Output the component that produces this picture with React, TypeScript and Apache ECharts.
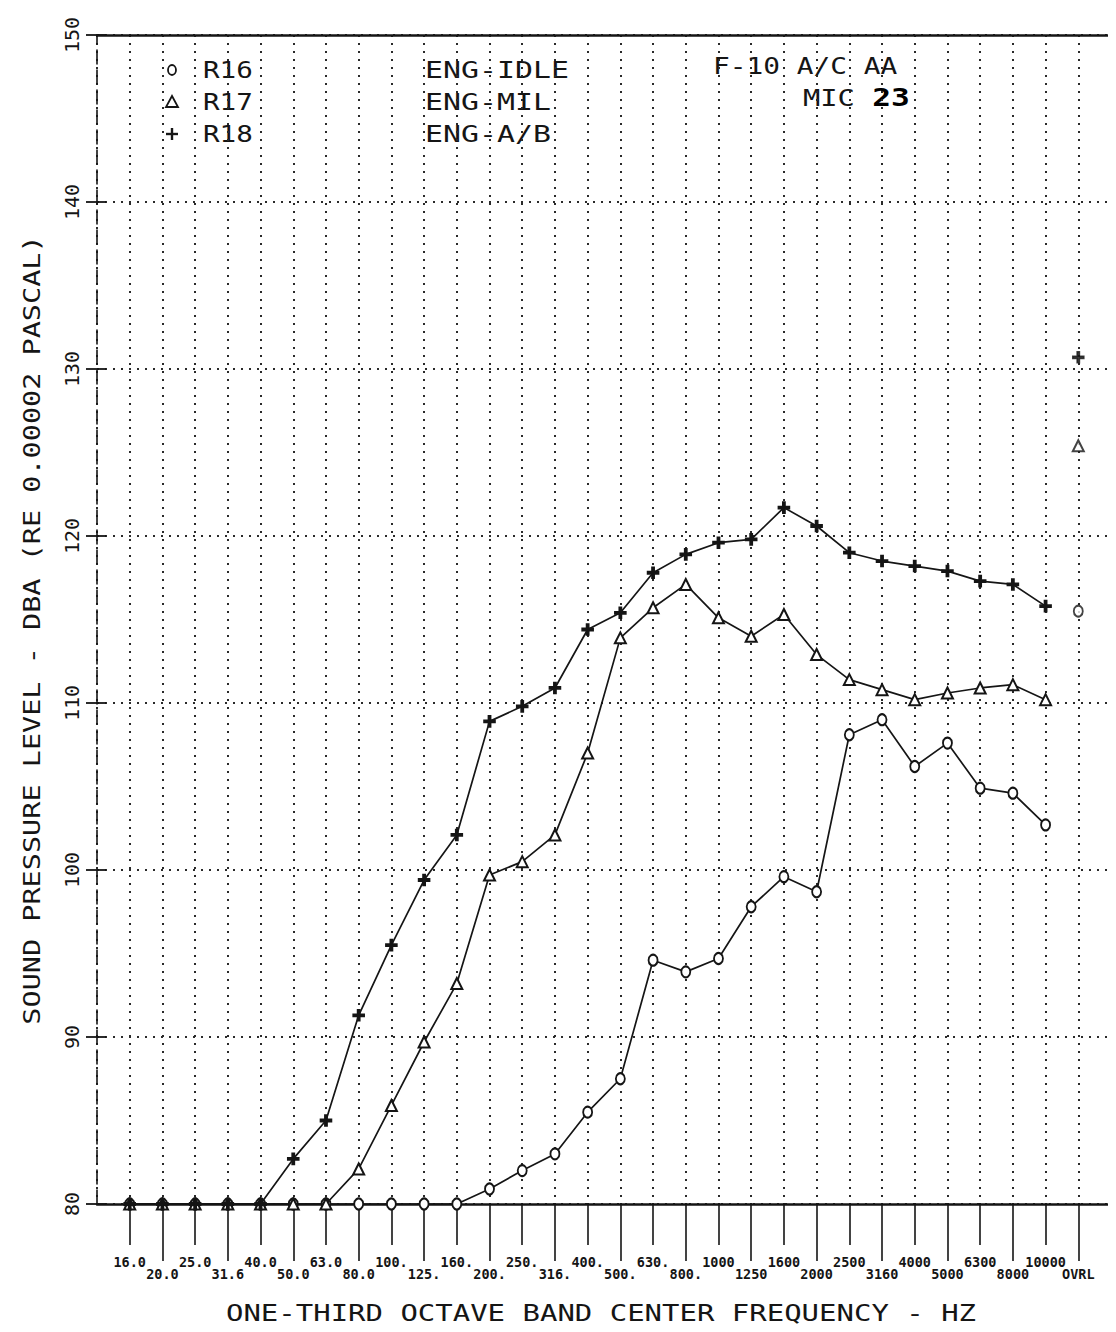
import React, { useEffect, useRef } from "react";
import * as echarts from "echarts";

// One-third octave band centre frequencies (x axis), last slot is the overall level
const bandLabels = [
  "16.0", "20.0", "25.0", "31.6", "40.0", "50.0", "63.0", "80.0", "100.", "125.",
  "160.", "200.", "250.", "316.", "400.", "500.", "630.", "800.", "1000", "1250",
  "1600", "2000", "2500", "3160", "4000", "5000", "6300", "8000", "10000", "OVRL",
];

// R16 - ENG-IDLE (circles)
const r16Idle = [
  80, 80, 80, 80, 80, 80, 80, 80, 80, 80,
  80, 80.9, 82.0, 83.0, 85.5, 87.5, 94.6, 93.9, 94.7, 97.8,
  99.6, 98.7, 108.1, 109.0, 106.2, 107.6, 104.9, 104.6, 102.7,
];

// R17 - ENG-MIL (triangles)
const r17Mil = [
  80, 80, 80, 80, 80, 80, 80, 82.1, 85.9, 89.7,
  93.2, 99.7, 100.5, 102.1, 107.0, 113.9, 115.7, 117.1, 115.1, 114.0,
  115.3, 112.9, 111.4, 110.8, 110.2, 110.6, 110.9, 111.1, 110.2,
];

// R18 - ENG-A/B (plus)
const r18AB = [
  80, 80, 80, 80, 80, 82.7, 85.0, 91.3, 95.5, 99.4,
  102.1, 108.9, 109.8, 110.9, 114.4, 115.4, 117.8, 118.9, 119.6, 119.8,
  121.7, 120.6, 119.0, 118.5, 118.2, 117.9, 117.3, 117.1, 115.8,
];

// Overall (OVRL) levels for R16, R17, R18
const overallLevels = [115.5, 125.4, 130.7];

const runNames = ["R16", "R17", "R18"];
const engineModes = ["ENG-IDLE", "ENG-MIL", "ENG-A/B"];

const MONO = '"DejaVu Sans Mono", "Liberation Mono", monospace';
const INK = "#151515";
const DOT = "#2a2a2a";
const PLUS = "path://M4,0H6V4H10V6H6V10H4V6H0V4H4Z";

export default function App() {
  const ref = useRef<HTMLDivElement | null>(null);

  useEffect(() => {
    if (!ref.current) return;
    const chart = echarts.init(ref.current, undefined, { renderer: "svg" });

    const idx = bandLabels.map((_, i) => i);
    const evenIdx = idx.filter((i) => i % 2 === 0);
    const oddIdx = idx.filter((i) => i % 2 === 1);
    const ovrlIndex = bandLabels.length - 1;

    const tickLabel = {
      fontFamily: MONO,
      fontSize: 13.5,
      fontWeight: "bold" as const,
      color: INK,
      formatter: (v: number) => bandLabels[Math.round(v)] ?? "",
    };

    const symbols = ["emptyCircle", "emptyTriangle", PLUS];
    const sizes: any[] = [[9, 11], 11, 11];
    const allValues = [r16Idle, r17Mil, r18AB];

    const lineSeries = allValues.map((vals, k) => ({
      name: runNames[k],
      type: "line",
      xAxisIndex: 0,
      yAxisIndex: 0,
      data: vals.map((v, i) => [i, v]),
      symbol: symbols[k],
      symbolSize: sizes[k],
      showSymbol: true,
      lineStyle: { color: INK, width: 1.7 },
      itemStyle: { color: INK, borderColor: INK, borderWidth: 1.6 },
      z: 3 + k,
    }));

    const ovrlSeries = overallLevels.map((v, k) => ({
      name: runNames[k] + " OVRL",
      type: "scatter",
      xAxisIndex: 0,
      yAxisIndex: 0,
      data: [[ovrlIndex, v]],
      symbol: symbols[k],
      symbolSize: sizes[k],
      itemStyle: { color: INK, borderColor: INK, borderWidth: 1.6 },
      z: 6,
    }));

    const textStyleBase = (size: number) => ({
      fontFamily: MONO,
      fontSize: size,
      fill: INK,
      verticalAlign: "middle",
    });

    const legendRowsY = [70, 102, 134];

    const option: any = {
      animation: false,
      backgroundColor: "#ffffff",
      grid: { left: 97, right: 5, top: 35, bottom: 128, containLabel: false },
      xAxis: [
        {
          type: "value",
          position: "bottom",
          min: -1,
          max: 30,
          interval: 1,
          axisLine: { show: true, onZero: false, lineStyle: { color: INK, width: 2.5 } },
          axisTick: { show: true, customValues: evenIdx, length: 41, lineStyle: { color: INK, width: 1.6 } },
          axisLabel: { show: true, customValues: evenIdx, margin: 51, ...tickLabel },
          splitLine: { show: false },
        },
        {
          type: "value",
          position: "bottom",
          min: -1,
          max: 30,
          interval: 1,
          axisLine: { show: false, onZero: false },
          axisTick: { show: true, customValues: oddIdx, length: 57, lineStyle: { color: INK, width: 1.6 } },
          axisLabel: { show: true, customValues: oddIdx, margin: 63, ...tickLabel },
          splitLine: { show: false },
        },
        {
          type: "value",
          position: "top",
          min: -1,
          max: 30,
          interval: 1,
          axisLine: { show: true, onZero: false, lineStyle: { color: INK, width: 2.5 } },
          axisTick: { show: false },
          axisLabel: { show: false },
          splitLine: { show: true, lineStyle: { color: DOT, width: 2, type: [2, 6] } },
        },
      ],
      yAxis: [
        {
          type: "value",
          position: "left",
          min: 80,
          max: 150,
          interval: 10,
          axisLine: { show: true, onZero: false, lineStyle: { color: INK, width: 1.6, type: [14, 6] } },
          axisTick: { show: true, inside: false, length: 11, lineStyle: { color: INK, width: 1.8 } },
          axisLabel: { rotate: 90, margin: 15, fontFamily: MONO, fontSize: 20, color: INK },
          splitLine: { show: true, lineStyle: { color: DOT, width: 2, type: [2, 6] } },
        },
        {
          type: "value",
          position: "right",
          min: 80,
          max: 150,
          interval: 10,
          axisLine: { show: true, onZero: false, lineStyle: { color: "#333", width: 1.6, type: [16, 8] } },
          axisTick: { show: false },
          axisLabel: { show: false },
          splitLine: { show: false },
        },
        {
          type: "value",
          position: "left",
          min: 80,
          max: 150,
          interval: 10,
          axisLine: { show: false, onZero: false },
          axisTick: { show: true, inside: true, length: 9, lineStyle: { color: INK, width: 1.8 } },
          axisLabel: { show: false },
          splitLine: { show: false },
        },
      ],
      series: [...lineSeries, ...ovrlSeries],
      graphic: [
        // legend symbols
        {
          type: "ellipse",
          shape: { cx: 172, cy: legendRowsY[0], rx: 4, ry: 5 },
          style: { fill: "none", stroke: INK, lineWidth: 1.8 },
        },
        {
          type: "polygon",
          shape: { points: [[172, legendRowsY[1] - 6], [166, legendRowsY[1] + 5], [178, legendRowsY[1] + 5]] },
          style: { fill: "none", stroke: INK, lineWidth: 1.8 },
        },
        {
          type: "line",
          shape: { x1: 166, y1: legendRowsY[2], x2: 178, y2: legendRowsY[2] },
          style: { stroke: INK, lineWidth: 2.4 },
        },
        {
          type: "line",
          shape: { x1: 172, y1: legendRowsY[2] - 6, x2: 172, y2: legendRowsY[2] + 6 },
          style: { stroke: INK, lineWidth: 2.4 },
        },
        ...runNames.map((n, k) => ({
          type: "text",
          x: 203,
          y: legendRowsY[k],
          scaleX: 1.2,
          style: { ...textStyleBase(23), text: n, align: "left" },
        })),
        ...engineModes.map((m, k) => ({
          type: "text",
          x: 425,
          y: legendRowsY[k],
          scaleX: 1.3,
          style: { ...textStyleBase(23), text: m, align: "left" },
        })),
        {
          type: "text",
          x: 713,
          y: 66,
          scaleX: 1.21,
          style: { ...textStyleBase(23), text: "F-10 A/C AA", align: "left" },
        },
        {
          type: "text",
          x: 803,
          y: 98,
          scaleX: 1.25,
          style: {
            ...textStyleBase(23),
            align: "left",
            text: "{m|MIC} {n|23}",
            rich: {
              m: { fontFamily: MONO, fontSize: 23, fill: INK },
              n: { fontFamily: MONO, fontSize: 25, fontWeight: "bold", fill: "#000" },
            },
          },
        },
        {
          type: "text",
          x: 601,
          y: 1313,
          scaleX: 1.26,
          style: { ...textStyleBase(23), text: "ONE-THIRD OCTAVE BAND CENTER FREQUENCY - HZ", align: "center" },
        },
        {
          type: "text",
          x: 32,
          y: 630,
          rotation: Math.PI / 2,
          scaleX: 1.24,
          style: { ...textStyleBase(23), text: "SOUND PRESSURE LEVEL - DBA (RE 0.00002 PASCAL)", align: "center" },
        },
      ],
    };

    chart.setOption(option);
    return () => {
      chart.dispose();
    };
  }, []);

  return <div ref={ref} style={{ width: 1116, height: 1332, margin: -8 }} />;
}
